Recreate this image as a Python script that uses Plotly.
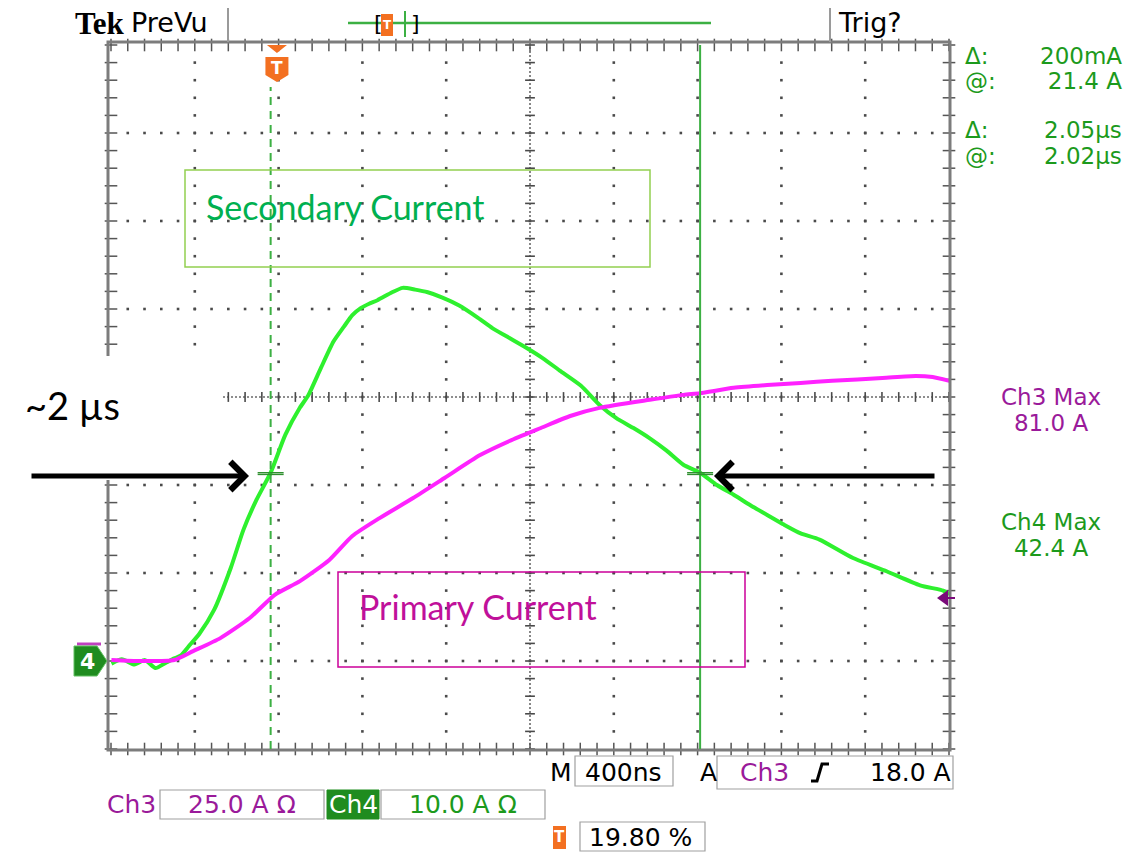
import numpy as np
import plotly.graph_objects as go

W, H = 1130, 852

# ---- scope settings -------------------------------------------------------
T_DIV = 0.4          # µs per division (M 400ns)
CH4_DIV = 10.0       # A per division, secondary current
CH3_DIV = 25.0       # A per division, primary current
N_XDIV, N_YDIV = 10, 8
T_LEFT = -0.792      # µs at left edge (trigger position 19.80 %)
GROUND_DIV = 1       # ground reference, divisions above the bottom

# ---- waveforms --------------------------------------------------------------
# Ch4: secondary current (A) vs time from trigger (µs)
sec_t = [-0.79, -0.74, -0.68, -0.63, -0.58, -0.53, -0.49, -0.46, -0.42, -0.37,
         -0.30, -0.22, -0.16, -0.10, -0.03, 0.04, 0.11, 0.15, 0.21, 0.27,
         0.32, 0.36, 0.40, 0.44, 0.48, 0.55, 0.60, 0.66, 0.72, 0.79,
         0.87, 0.96, 1.03, 1.11, 1.19, 1.27, 1.35, 1.45, 1.54, 1.62,
         1.70, 1.78, 1.86, 1.94, 2.02, 2.10, 2.18, 2.26, 2.34, 2.42,
         2.50, 2.59, 2.75, 2.91, 3.07, 3.18, 3.21]
sec_a = [-0.3, 0.2, -0.4, 0.1, -0.8, -0.2, 0.3, 0.6, 1.7, 3.1,
         5.8, 10.6, 14.9, 18.2, 21.4, 25.7, 28.8, 30.2, 33.3, 36.3,
         38.0, 39.3, 40.1, 40.6, 41.0, 41.9, 42.4, 42.2, 41.9, 41.3,
         40.4, 39.0, 37.8, 36.7, 35.6, 34.4, 33.0, 31.3, 29.1, 27.6,
         26.5, 25.3, 23.9, 22.3, 21.4, 20.0, 18.9, 17.7, 16.6, 15.5,
         14.5, 13.8, 11.7, 10.2, 8.6, 8.0, 7.6]

# Ch3: primary current (A)
prim_t = [-0.79, -0.65, -0.49, -0.40, -0.27, -0.13, -0.01, 0.11, 0.25, 0.36,
          0.49, 0.65, 0.80, 0.97, 1.11, 1.26, 1.40, 1.54, 1.78, 1.94,
          2.02, 2.18, 2.34, 2.50, 2.65, 2.89, 3.05, 3.13, 3.21]
prim_a = [0.3, 0.0, 0.3, 2.8, 6.5, 12.2, 18.8, 22.7, 28.7, 35.5,
          40.6, 46.3, 52.0, 58.5, 62.5, 66.2, 69.6, 71.9, 74.2, 75.6,
          76.1, 77.6, 78.4, 79.0, 79.6, 80.4, 81.0, 80.7, 79.6]

# cursors: two vertical (time) and two horizontal (Ch4 level)
cursor_t = [-0.03, 2.02]
cursor_a = [21.2, 21.4]

# ---- geometry helpers -------------------------------------------------------
GX0, GX1, GY0, GY1 = 111, 949, 45, 749   # graticule box in pixels


def fx(p):
    return p / W


def fy(p):
    return 1 - p / H


t_rng = [T_LEFT, T_LEFT + N_XDIV * T_DIV]
y4_rng = [-GROUND_DIV * CH4_DIV, (N_YDIV - GROUND_DIV) * CH4_DIV]
y3_rng = [-GROUND_DIV * CH3_DIV, (N_YDIV - GROUND_DIV) * CH3_DIV]

GREEN_TXT = "#1c9a1c"
PURPLE_TXT = "#9a1a9a"
ORANGE = "#f37021"
MONO = "DejaVu Sans"

fig = go.Figure()

# ---- graticule --------------------------------------------------------------
minor_t = T_LEFT + np.arange(0, N_XDIV * 5 + 1) * T_DIV / 5
minor_y = y4_rng[0] + np.arange(0, N_YDIV * 5 + 1) * CH4_DIV / 5
major_t = T_LEFT + np.arange(1, N_XDIV) * T_DIV
major_y = y4_rng[0] + np.arange(1, N_YDIV) * CH4_DIV
t_mid = T_LEFT + N_XDIV / 2 * T_DIV
y_mid = y4_rng[0] + N_YDIV / 2 * CH4_DIV

dx, dy = [], []
for t in major_t:
    if abs(t - t_mid) < 1e-9:
        continue
    for y in minor_y[1:-1]:
        dx.append(t)
        dy.append(y)
for y in major_y:
    if abs(y - y_mid) < 1e-9:
        continue
    for t in minor_t[1:-1]:
        dx.append(t)
        dy.append(y)
fig.add_trace(go.Scatter(x=dx, y=dy, mode="markers", hoverinfo="skip",
                         marker=dict(symbol="square", size=2.6, color="#4a4a4a"),
                         cliponaxis=False, showlegend=False))

# centre cross lines (dense dotted with minor ticks)
fig.add_trace(go.Scatter(x=t_rng, y=[y_mid, y_mid], mode="lines", hoverinfo="skip",
                         line=dict(color="#6a6a6a", width=1.6, dash="2px,2px"),
                         showlegend=False))
fig.add_trace(go.Scatter(x=[t_mid, t_mid], y=y4_rng, mode="lines", hoverinfo="skip",
                         line=dict(color="#6a6a6a", width=1.6, dash="2px,2px"),
                         showlegend=False))
fig.add_trace(go.Scatter(x=minor_t, y=[y_mid] * len(minor_t), mode="markers",
                         hoverinfo="skip", cliponaxis=False,
                         marker=dict(symbol="line-ns", size=7,
                                     line=dict(color="#4a4a4a", width=1.6)),
                         showlegend=False))
fig.add_trace(go.Scatter(x=[t_mid] * len(minor_y), y=minor_y, mode="markers",
                         hoverinfo="skip", cliponaxis=False,
                         marker=dict(symbol="line-ew", size=7,
                                     line=dict(color="#4a4a4a", width=1.6)),
                         showlegend=False))

# border ticks
bx = list(minor_t) * 2
by = [y4_rng[0]] * len(minor_t) + [y4_rng[1]] * len(minor_t)
fig.add_trace(go.Scatter(x=bx, y=by, mode="markers", hoverinfo="skip", cliponaxis=False,
                         marker=dict(symbol="line-ns", size=9,
                                     line=dict(color="#555555", width=1.5)),
                         showlegend=False))
lx = [t_rng[0]] * len(minor_y) + [t_rng[1]] * len(minor_y)
ly = list(minor_y) * 2
fig.add_trace(go.Scatter(x=lx, y=ly, mode="markers", hoverinfo="skip", cliponaxis=False,
                         marker=dict(symbol="line-ew", size=9,
                                     line=dict(color="#555555", width=1.5)),
                         showlegend=False))

# ---- waveforms ----------------------------------------------------------------
fig.add_trace(go.Scatter(x=prim_t, y=prim_a, yaxis="y2", mode="lines",
                         line=dict(color="#ff22ff", width=4, shape="spline", smoothing=0.6),
                         name="Ch3", showlegend=False))
fig.add_trace(go.Scatter(x=sec_t, y=sec_a, mode="lines",
                         line=dict(color="#2ef02e", width=4, shape="spline", smoothing=0.6),
                         name="Ch4", showlegend=False))

shapes = []
annotations = []


def rect(x0, y0, x1, y1, color="#a0a0a0", width=1.2, fill=None, layer="above"):
    shapes.append(dict(type="rect", xref="paper", yref="paper",
                       x0=fx(x0), x1=fx(x1), y0=fy(y1), y1=fy(y0),
                       line=dict(color=color, width=width),
                       fillcolor=fill if fill else "rgba(0,0,0,0)", layer=layer))


def seg(x0, y0, x1, y1, color, width, dash=None):
    ln = dict(color=color, width=width)
    if dash:
        ln["dash"] = dash
    shapes.append(dict(type="line", xref="paper", yref="paper",
                       x0=fx(x0), x1=fx(x1), y0=fy(y0), y1=fy(y1), line=ln))


def poly(pts, fill, line="rgba(0,0,0,0)", width=1):
    d = "M" + " L".join(f"{fx(a):.5f},{fy(b):.5f}" for a, b in pts) + " Z"
    shapes.append(dict(type="path", xref="paper", yref="paper", path=d,
                       fillcolor=fill, line=dict(color=line, width=width)))


def txt(x, y, s, size=25, color="black", anchor="left", family=MONO, **kw):
    annotations.append(dict(x=fx(x), y=fy(y), xref="paper", yref="paper", text=s,
                            showarrow=False, xanchor=anchor, yanchor="middle",
                            font=dict(family=family, size=size, color=color), **kw))


def block(x, y, lines, pitch, size=24, color="black", anchor="left"):
    """Multi-line readout; the base font sets the line pitch, spans set glyph size."""
    base = pitch / 1.3
    body = "<br>".join(f'<span style="font-size:{size}px">{s}</span>' for s in lines)
    annotations.append(dict(x=fx(x), y=fy(y), xref="paper", yref="paper", text=body,
                            showarrow=False, xanchor=anchor, yanchor="middle",
                            align=anchor if anchor != "center" else "center",
                            font=dict(family=MONO, size=base, color=color)))


# graticule frame
rect(GX0 - 3, GY0 - 3, GX1 + 1, GY1 + 1, color="#7c7c7c", width=3)
# header separators
seg(228, 8, 228, 42, "#9a9a9a", 2)
seg(830, 8, 830, 42, "#9a9a9a", 2)

# text-box area on the left that hides part of the graticule
rect(0, 356, 221, 480, color="white", width=0, fill="white")

# cursors
shapes.append(dict(type="line", xref="x", yref="paper", x0=cursor_t[0], x1=cursor_t[0],
                   y0=fy(GY1), y1=fy(87), line=dict(color="#3cb043", width=2, dash="8px,6px")))
shapes.append(dict(type="line", xref="x", yref="paper", x0=cursor_t[1], x1=cursor_t[1],
                   y0=fy(GY1), y1=fy(GY0), line=dict(color="#3cb043", width=2)))
half = 13 / (GX1 - GX0) * N_XDIV * T_DIV
for ct in cursor_t:
    for ca in cursor_a:
        shapes.append(dict(type="line", xref="x", yref="y", x0=ct - half, x1=ct + half,
                           y0=ca, y1=ca, line=dict(color="#2f8f2f", width=1.4)))

# trigger marker at top of graticule (t = 0)
t0px = GX0 + (0 - T_LEFT) / T_DIV * (GX1 - GX0) / N_XDIV
poly([(t0px - 10, 45), (t0px + 10, 45), (t0px, 53)], ORANGE)
poly([(t0px - 11.5, 57), (t0px + 11.5, 57), (t0px + 11.5, 75), (t0px, 82), (t0px - 11.5, 75)], ORANGE)
txt(t0px, 68, "<b>T</b>", size=17, color="white", anchor="center", family="DejaVu Sans")

# ground marker for Ch4 and Ch3 reference bar
gy = GY1 - GROUND_DIV * (GY1 - GY0) / N_YDIV
seg(77, gy - 17, 101, gy - 17, "#c040c0", 3)
poly([(74, gy - 15), (97, gy - 15), (107, gy), (97, gy + 15), (74, gy + 15)], "#1f8c1f",
     line="#63c063", width=1)
txt(87, gy, "<b>4</b>", size=22, color="white", anchor="center", family="DejaVu Sans")

# end marker on the right edge
poly([(937, 598), (948, 590), (948, 606)], "#7a0a7a")
seg(948, 598, 955, 598, "#7a0a7a", 2)

# ---- header -----------------------------------------------------------------------
txt(73, 23, "<b>Tek</b>", size=31, family="Liberation Serif")
txt(129, 22, "PreVu", size=27)
txt(836, 22, "Trig?", size=27)
seg(348, 23, 711, 23, "#3cb043", 2.5)
rect(381, 14, 393, 36, color=ORANGE, width=0, fill=ORANGE)
txt(387, 25, "<b>T</b>", size=12, color="white", anchor="center")
seg(405, 11, 405, 37, "#3cb043", 2)
txt(372, 24, "[", size=22)
txt(409, 24, "]", size=22)

# ---- right readouts ------------------------------------------------------------
block(963, 68, ["Δ:", "@:"], 25, size=23, color=GREEN_TXT)
block(1124, 68, ["200mA", "21.4 A"], 25, size=23, color=GREEN_TXT, anchor="right")
block(963, 143, ["Δ:", "@:"], 26, size=23, color=GREEN_TXT)
block(1124, 143, [f"{cursor_t[1] - cursor_t[0]:.2f}µs", f"{cursor_t[1]:.2f}µs"], 26,
      size=23, color=GREEN_TXT, anchor="right")

block(1051, 410, ["Ch3 Max", f"{max(prim_a):.1f} A"], 26, size=23, color=PURPLE_TXT,
      anchor="center")
block(1051, 535, ["Ch4 Max", f"{max(sec_a):.1f} A"], 26, size=23, color=GREEN_TXT,
      anchor="center")

# ---- bottom readouts --------------------------------------------------------------
txt(548, 772, "M", size=25)
rect(575, 756, 673, 786)
txt(583, 772, "400ns", size=25)
txt(698, 772, "A", size=25)
rect(717, 756, 953, 789)
txt(738, 772, "Ch3", size=25, color=PURPLE_TXT)
shapes.append(dict(type="path", xref="paper", yref="paper",
                   path=f"M{fx(811):.5f},{fy(781):.5f} L{fx(817):.5f},{fy(781):.5f} "
                        f"L{fx(822):.5f},{fy(764):.5f} L{fx(829):.5f},{fy(764):.5f}",
                   line=dict(color="black", width=3)))
txt(953, 772, "18.0 A", size=25, anchor="right")

txt(105, 804, "Ch3", size=25, color=PURPLE_TXT)
rect(160, 790, 324, 819)
txt(242, 804, f"{CH3_DIV:.1f} A Ω", size=25, color=PURPLE_TXT, anchor="center")
rect(327, 790, 379, 819, color="#1f8c1f", width=1, fill="#1f8c1f")
txt(353, 804, "Ch4", size=25, color="white", anchor="center")
rect(381, 790, 545, 819)
txt(463, 804, f"{CH4_DIV:.1f} A Ω", size=25, color=GREEN_TXT, anchor="center")

rect(553, 826, 566, 849, color=ORANGE, width=0, fill=ORANGE)
txt(559.5, 837, "<b>T</b>", size=15, color="white", anchor="center")
rect(580, 822, 705, 851)
txt(587, 837, "19.80 %", size=25)

# ---- call-out labels and arrows -----------------------------------------------
rect(185, 170, 650, 267, color="#92d050", width=1.5)
txt(204, 206, "Secondary Current", size=34, color="#00b050", family="Lato")
rect(338, 572, 745, 667, color="#cc0099", width=1.5)
txt(357, 606, "Primary Current", size=34, color="#c0109a", family="Lato")
txt(23, 405, "~2 µs", size=38, family="Lato")

annotations.append(dict(x=fx(249), y=fy(476), xref="paper", yref="paper", ax=-219, ay=0,
                        showarrow=True, arrowhead=4, arrowsize=1.1, arrowwidth=5,
                        arrowcolor="black", text=""))
annotations.append(dict(x=fx(714), y=fy(476), xref="paper", yref="paper", ax=222, ay=0,
                        showarrow=True, arrowhead=4, arrowsize=1.1, arrowwidth=5,
                        arrowcolor="black", text=""))

axis_common = dict(showgrid=False, zeroline=False, showticklabels=False,
                   showline=False, ticks="", fixedrange=True)
fig.update_layout(
    width=W, height=H,
    margin=dict(l=0, r=0, t=0, b=0),
    paper_bgcolor="white", plot_bgcolor="white",
    xaxis=dict(domain=[fx(GX0), fx(GX1)], range=t_rng, **axis_common),
    yaxis=dict(domain=[fy(GY1), fy(GY0)], range=y4_rng, **axis_common),
    yaxis2=dict(overlaying="y", range=y3_rng, **axis_common),
    shapes=shapes,
    annotations=annotations,
    showlegend=False,
)

fig.write_html("out.html")
